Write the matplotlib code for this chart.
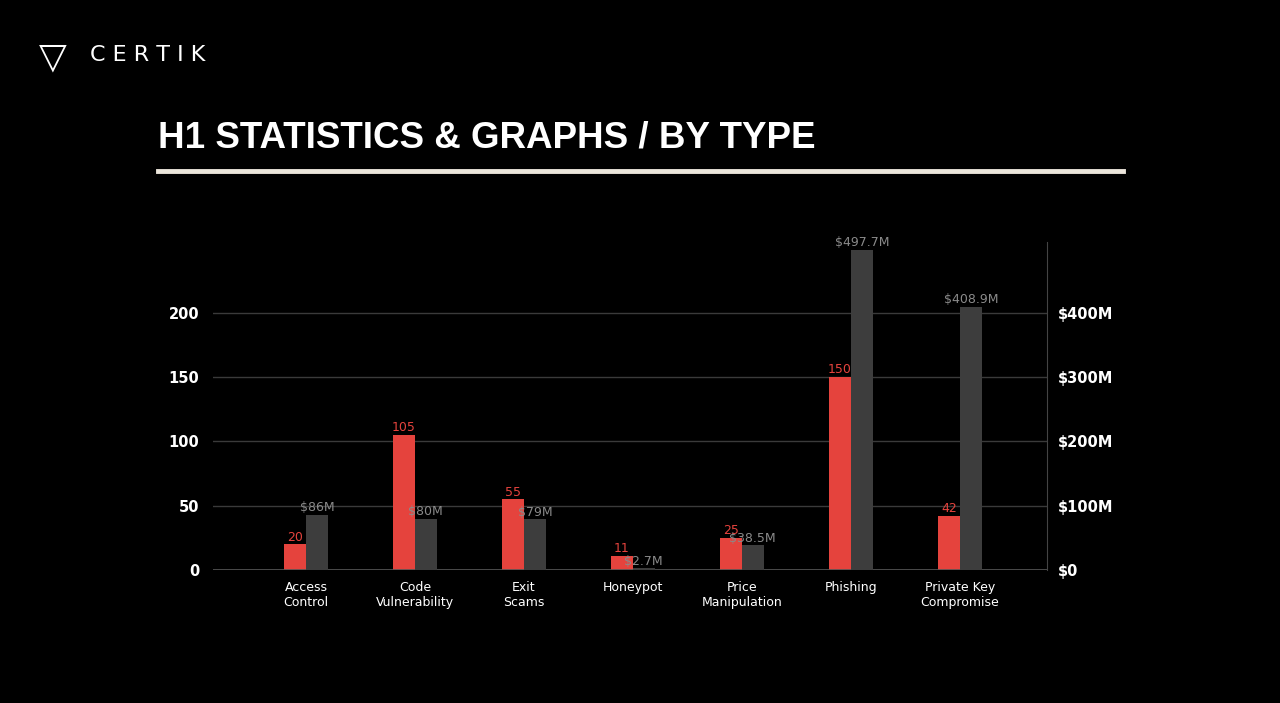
import matplotlib
matplotlib.use("Agg")
import matplotlib.pyplot as plt
import numpy as np

categories = ["Access\nControl", "Code\nVulnerability", "Exit\nScams", "Honeypot",
              "Price\nManipulation", "Phishing", "Private Key\nCompromise"]
counts = [20, 105, 55, 11, 25, 150, 42]
losses_m = [86, 80, 79, 2.7, 38.5, 497.7, 408.9]
loss_labels = ["$86M", "$80M", "$79M", "$2.7M", "$38.5M", "$497.7M", "$408.9M"]
left_ticks = [0, 50, 100, 150, 200]
right_ticks = [0, 100, 200, 300, 400]
right_tick_labels = ["$0", "$100M", "$200M", "$300M", "$400M"]

RED = "#e5433d"
GRAY = "#3d3d3d"
fig = plt.figure(figsize=(12.8, 7.03), dpi=100, facecolor="black")

# header
fig.text(0.07, 0.922, "C E R T I K", color="white", fontsize=16, va="center", ha="left",
         family="DejaVu Sans")
fig.text(0.0305, 0.918, "\u25BD", color="white", fontsize=26, va="center", ha="left")
fig.text(0.1234, 0.803, "H1 STATISTICS & GRAPHS / BY TYPE", color="white", fontsize=26.5,
         fontweight="bold", va="center", ha="left", family="Liberation Sans")
fig.add_artist(plt.Line2D([0.1234, 0.877], [0.757, 0.757], color="#ece6dc", lw=3.5))

ax = fig.add_axes([0.1664, 0.1892, 0.6516, 0.4666])
ax.set_facecolor("none")
ax2 = ax.twinx()
x = np.arange(len(categories))
w = 0.2
rb = ax.bar(x - w / 2, counts, w, color=RED, zorder=3)
gb = ax2.bar(x + w / 2, losses_m, w, color=GRAY, zorder=3)
ax.set_xlim(-0.853, 6.8)
ax.set_ylim(0, 255)
ax2.set_ylim(0, 510)
ax.set_yticks(left_ticks)
ax2.set_yticks(right_ticks)
ax2.set_yticklabels(right_tick_labels)
ax.set_xticks(x)
ax.set_xticklabels(categories)
for a in (ax, ax2):
    for s in a.spines.values():
        s.set_visible(False)
    a.tick_params(length=0, colors="white", labelsize=10.5)
    for t in a.get_yticklabels():
        t.set_fontweight("bold")
ax.tick_params(axis="x", labelsize=9, pad=8)
ax.tick_params(axis="y", pad=10)
ax2.tick_params(axis="y", pad=8)
ax2.spines["right"].set_visible(True)
ax2.spines["right"].set_color("#444444")
ax.grid(axis="y", color="#3a3a3a", lw=1, zorder=0)
ax.axhline(0, color="#555555", lw=1.2, zorder=4)
for xi, v in zip(x, counts):
    ax.text(xi - w / 2, v + 0.5, str(v), color=RED, fontsize=9, ha="center", va="bottom", zorder=5)
for xi, v, l in zip(x, losses_m, loss_labels):
    ax2.text(xi + w / 2, v + 1, l, color="#8a8a8a", fontsize=9, ha="center", va="bottom", zorder=5)

fig.savefig("out.png", dpi=100, facecolor="black")
